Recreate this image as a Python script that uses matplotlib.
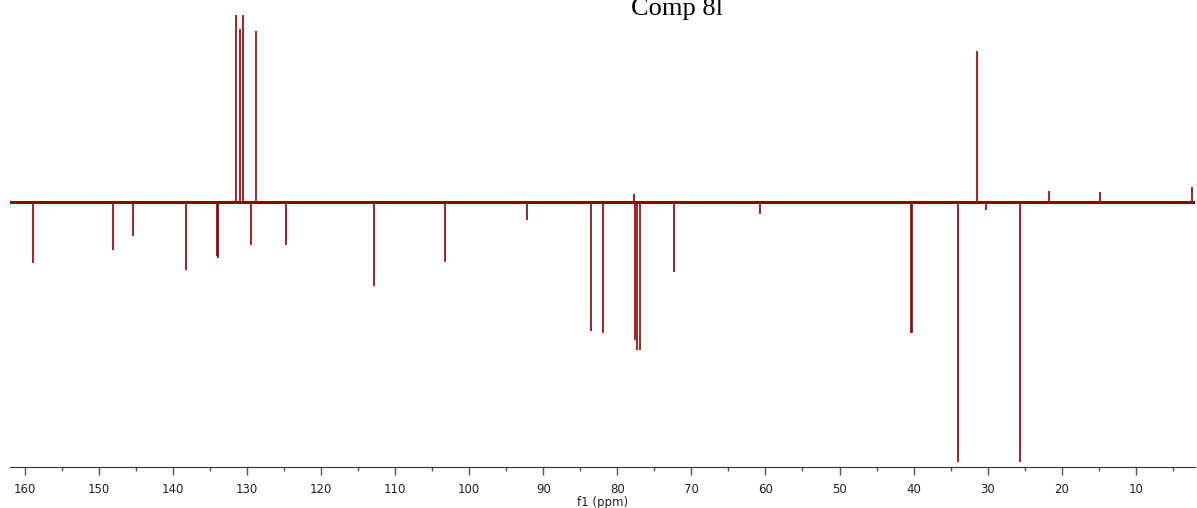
import matplotlib
matplotlib.use("Agg")
import matplotlib.pyplot as plt
import numpy as np

# peak positions (ppm) and intensities (arbitrary units, baseline = 0)
pos_ppm = [131.5, 130.9, 130.5, 128.8, 31.5, 21.7, 14.8, 2.4, 77.7]
pos_int = [187, 173, 187, 171, 151, 11, 10, 15, 8]

neg_ppm = [158.9, 148.1, 145.4, 138.3, 134.1, 133.9, 129.5, 124.7, 112.9,
           103.2, 92.2, 83.5, 82.0, 77.6, 77.3, 77.0, 72.4, 60.8,
           40.4, 40.15, 34.0, 30.2, 25.6]
neg_int = [-61, -48, -34, -68, -54, -56, -43, -43, -84,
           -60, -18, -129, -131, -138, -148, -148, -70, -12,
           -131, -131, -260, -8, -260]

major_ticks = list(range(10, 161, 10))
col = "#8b0000"

fig = plt.figure(figsize=(11.97, 5.08), dpi=100)
ax = fig.add_axes([10/1197, (508-467)/508, 1185/1197, 457/508])

ax.axhline(0, color=col, lw=2.2)
ax.vlines(pos_ppm, 0, pos_int, color=col, lw=1.2)
ax.vlines(neg_ppm, 0, neg_int, color=col, lw=1.2)

ax.set_xlim(162, 2)
ax.set_ylim(-265, 192)

for s in ["top", "left", "right"]:
    ax.spines[s].set_visible(False)
ax.spines["bottom"].set_color("#333333")
ax.set_yticks([])
ax.set_xticks(major_ticks)
ax.set_xticks(np.arange(5, 165, 5), minor=True)
ax.tick_params(axis="x", which="major", length=6, width=1, color="#555555",
               labelsize=8.5, pad=5.5, labelcolor="#222222")
ax.tick_params(axis="x", which="minor", length=3, width=1, color="#555555")
ax.set_xlabel("f1 (ppm)", fontsize=8.5, labelpad=0, color="#222222")

fig.text(677/1197, (508-15)/508, "Comp 8l", fontsize=19,
         family="Liberation Serif", ha="center", va="baseline")

fig.savefig("out.png", dpi=100)
